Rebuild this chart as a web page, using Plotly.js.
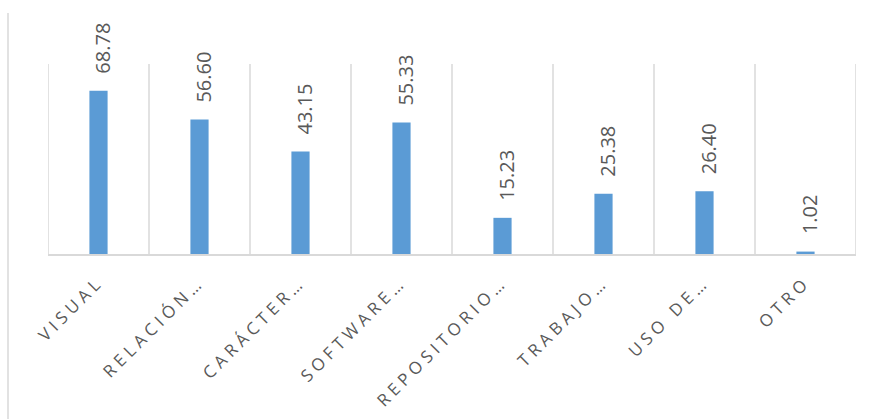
<!DOCTYPE html>
<html>
<head>
<meta charset="utf-8">
<script src="https://cdn.plot.ly/plotly-3.0.1.min.js"></script>
<style>
html,body{margin:0;padding:0;background:#fff;}
#chart{width:875px;height:419px;}
.xtick text{letter-spacing:4.5px;}
</style>
</head>
<body>
<div id="chart"></div>
<script>
const categories = ["VISUAL", "RELACIÓN…", "CARÁCTER…", "SOFTWARE…", "REPOSITORIO…", "TRABAJO…", "USO DE…", "OTRO"];
const values = [68.78, 56.60, 43.15, 55.33, 15.23, 25.38, 26.40, 1.02];
const valueLabels = ["68.78", "56.60", "43.15", "55.33", "15.23", "25.38", "26.40", "1.02"];

const gray = "#595959";
const gridColor = "#D9D9D9";

const trace = {
  type: "bar",
  x: categories,
  y: values,
  marker: {color: "#5B9BD5"},
  hoverinfo: "skip"
};

const annotations = categories.map((c, i) => ({
  x: c, y: values[i], xref: "x", yref: "y",
  text: valueLabels[i], showarrow: false,
  textangle: -90, xanchor: "center", yanchor: "bottom",
  yshift: 15, xshift: 4,
  font: {family: "Open Sans, sans-serif", size: 20, color: gray}
}));

const shapes = [];
for (let i = 0; i <= categories.length; i++) {
  shapes.push({
    type: "line", xref: "x", yref: "paper",
    x0: i - 0.5, x1: i - 0.5, y0: 0, y1: 1,
    line: {color: gridColor, width: 1.5}, layer: "below"
  });
}
// outer chart border line at left
shapes.push({
  type: "line", xref: "paper", yref: "paper",
  x0: -0.0495, x1: -0.0495, y0: -0.87, y1: 1.268,
  line: {color: gridColor, width: 1.5}
});

const layout = {
  width: 875, height: 419,
  margin: {l: 48, r: 19, t: 64, b: 165},
  paper_bgcolor: "#fff", plot_bgcolor: "#fff",
  showlegend: false,
  bargap: 0.82,
  xaxis: {
    type: "category",
    range: [-0.5, categories.length - 0.5],
    tickangle: -45,
    showgrid: false, zeroline: false,
    showline: true, linecolor: gridColor, linewidth: 1.5,
    ticks: "", ticklabelstandoff: 10,
    tickfont: {family: "Open Sans, sans-serif", size: 17, color: gray}
  },
  yaxis: {
    range: [0, 80],
    showgrid: false, zeroline: false, showline: false,
    showticklabels: false, ticks: ""
  },
  annotations: annotations,
  shapes: shapes
};

Plotly.newPlot("chart", [trace], layout, {displayModeBar: false, staticPlot: true});
</script>
</body>
</html>
